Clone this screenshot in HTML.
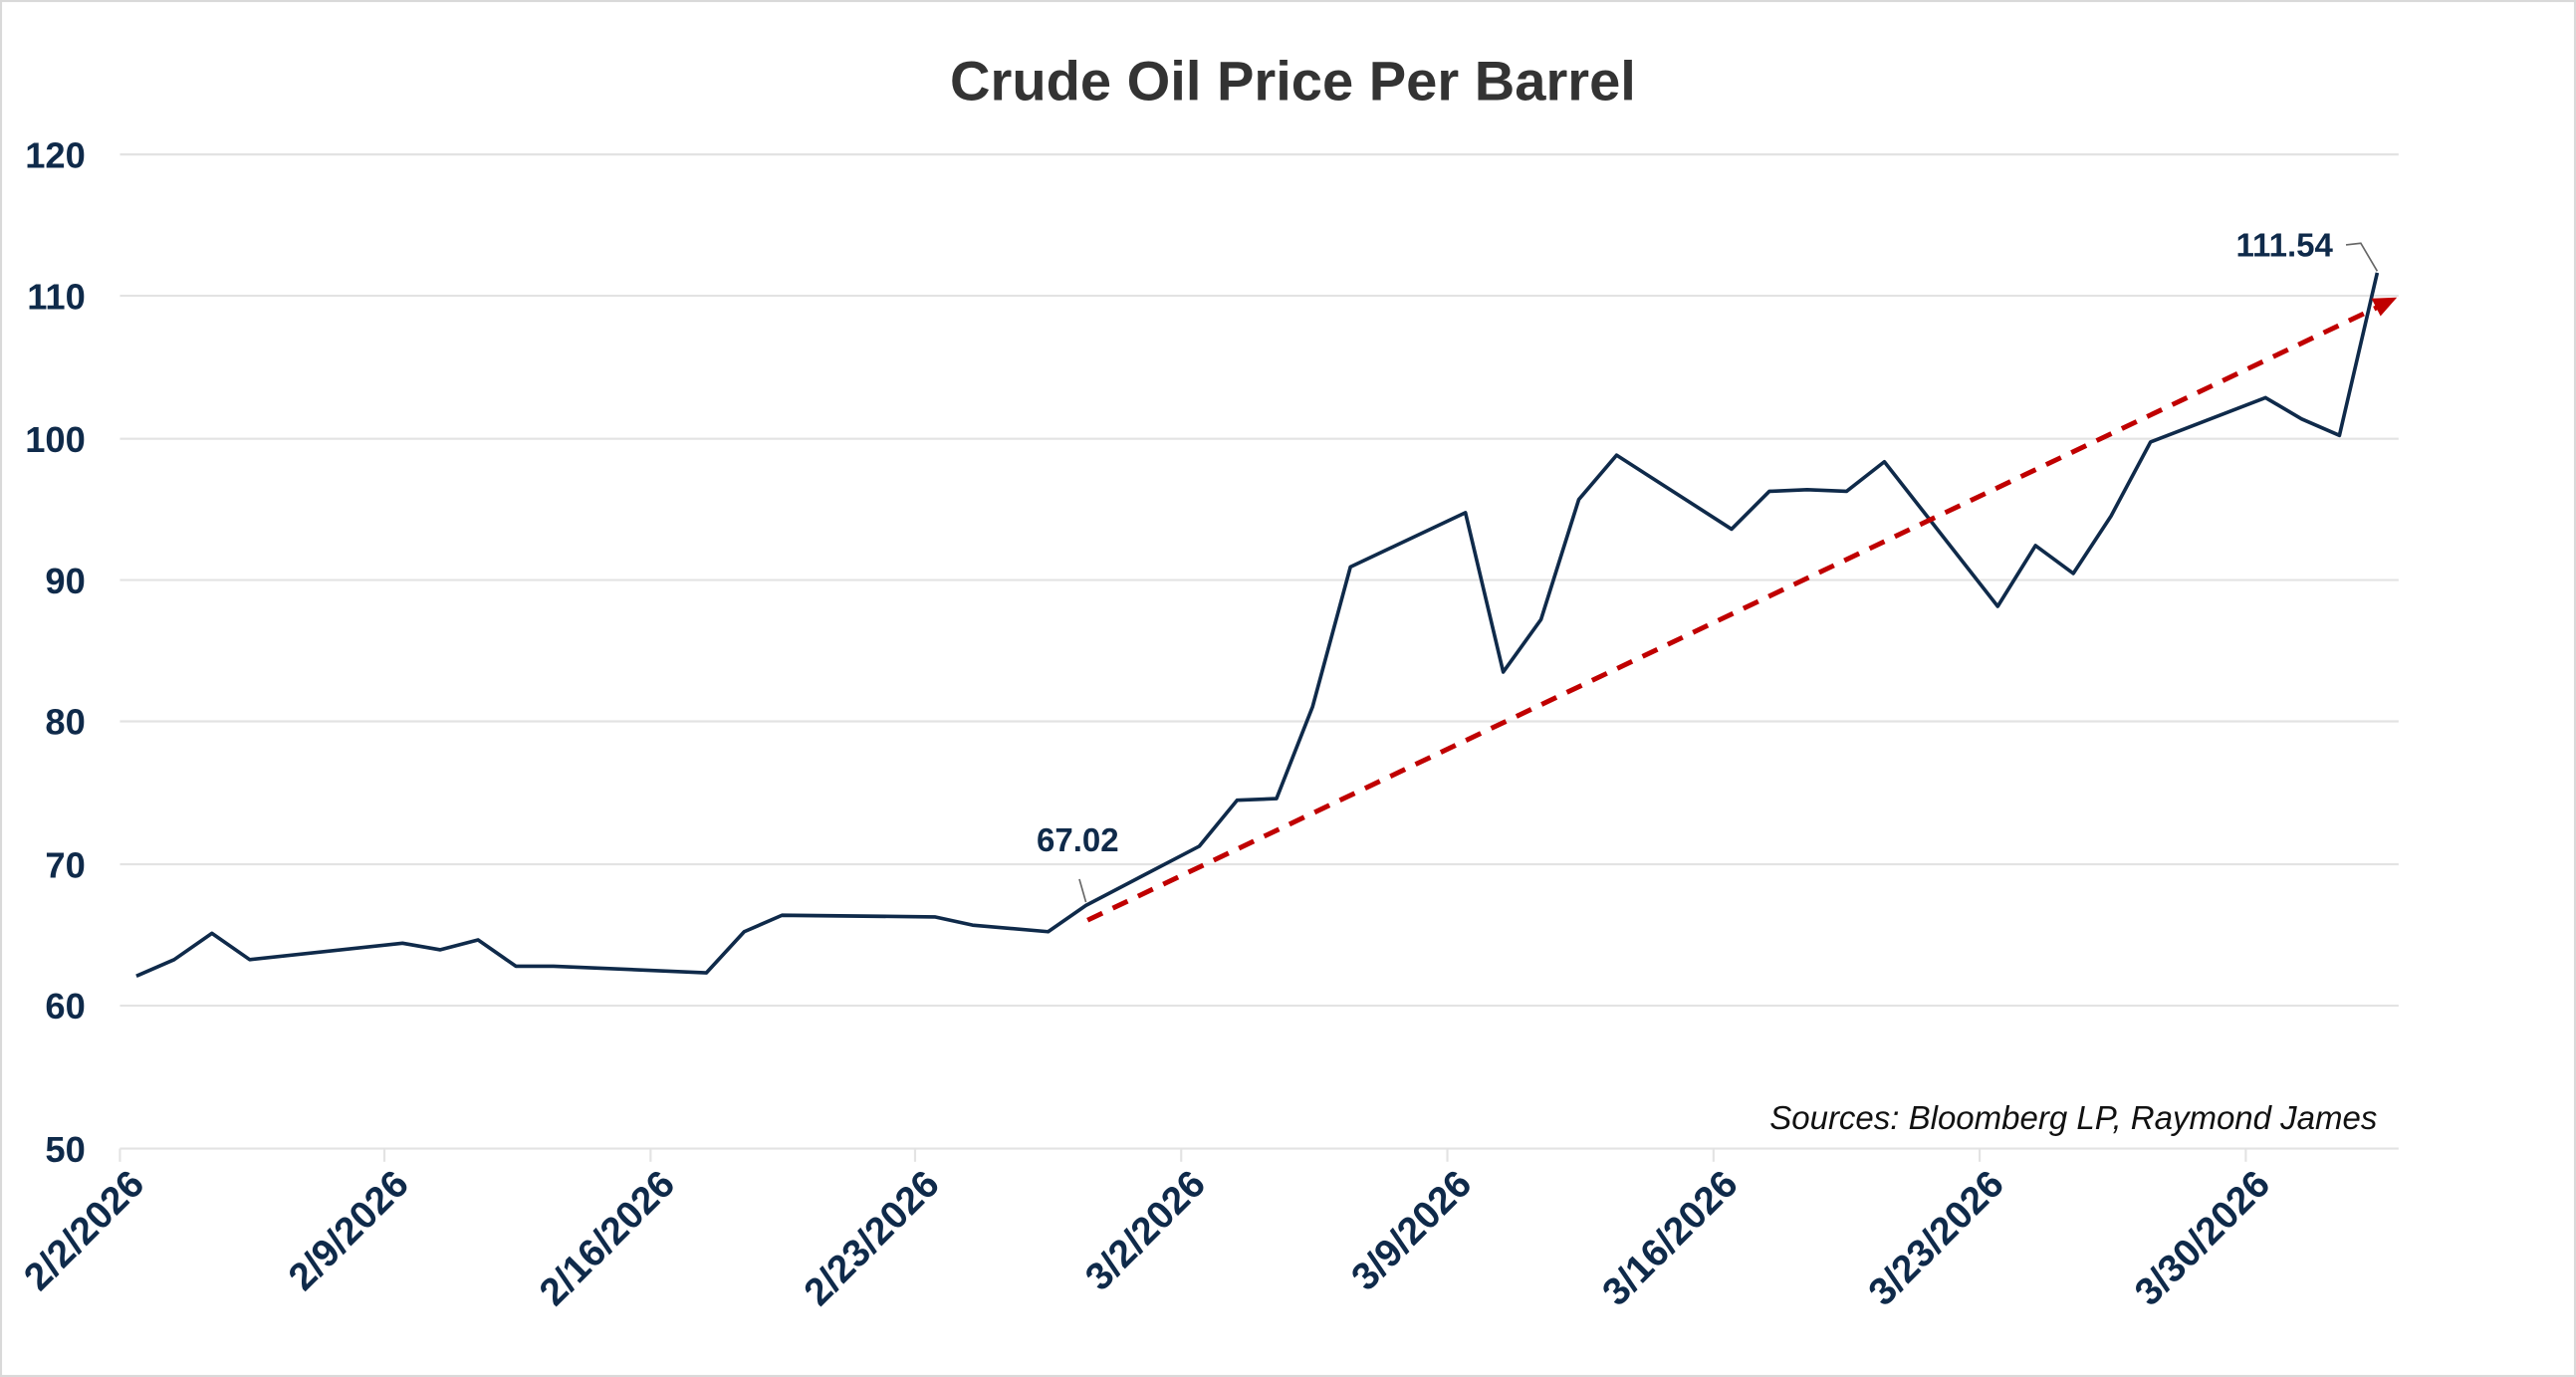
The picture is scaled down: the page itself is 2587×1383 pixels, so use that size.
<!DOCTYPE html>
<html><head><meta charset="utf-8"><style>
html,body{margin:0;padding:0;background:#fff;}
svg{display:block;}
text{font-family:"Liberation Sans",Arial,sans-serif;}
</style></head><body>
<svg width="2587" height="1383" viewBox="0 0 1568 838" preserveAspectRatio="none" xmlns="http://www.w3.org/2000/svg">
<rect x="0.5" y="0.5" width="1567" height="837" fill="#fff" stroke="#d9d9d9" stroke-width="1.5"/>
<text x="787" y="61" text-anchor="middle" font-size="34" font-weight="bold" fill="#333">Crude Oil Price Per Barrel</text>
<g stroke="#e3e3e3" stroke-width="1.3">
<line x1="73" x2="1460" y1="94" y2="94"/><line x1="73" x2="1460" y1="180" y2="180"/>
<line x1="73" x2="1460" y1="267" y2="267"/><line x1="73" x2="1460" y1="353" y2="353"/>
<line x1="73" x2="1460" y1="439" y2="439"/><line x1="73" x2="1460" y1="526" y2="526"/>
<line x1="73" x2="1460" y1="612" y2="612"/><line x1="73" x2="1460" y1="699" y2="699"/>
<line x1="73" x2="73" y1="699" y2="707"/><line x1="234" x2="234" y1="699" y2="707"/>
<line x1="396" x2="396" y1="699" y2="707"/><line x1="557" x2="557" y1="699" y2="707"/>
<line x1="719" x2="719" y1="699" y2="707"/><line x1="881" x2="881" y1="699" y2="707"/>
<line x1="1043" x2="1043" y1="699" y2="707"/><line x1="1205" x2="1205" y1="699" y2="707"/>
<line x1="1367" x2="1367" y1="699" y2="707"/>
</g>
<g font-size="22" font-weight="bold" fill="#0f2a4a" text-anchor="end">
<text x="52" y="102">120</text><text x="52" y="188">110</text><text x="52" y="275">100</text>
<text x="52" y="361">90</text><text x="52" y="447">80</text><text x="52" y="534">70</text>
<text x="52" y="620">60</text><text x="52" y="707">50</text>
</g>
<g font-size="23.5" font-weight="bold" fill="#0f2a4a" text-anchor="end">
<text transform="translate(89 722) rotate(-45)">2/2/2026</text>
<text transform="translate(250 722) rotate(-45)">2/9/2026</text>
<text transform="translate(412 722) rotate(-45)">2/16/2026</text>
<text transform="translate(573 722) rotate(-45)">2/23/2026</text>
<text transform="translate(735 722) rotate(-45)">3/2/2026</text>
<text transform="translate(897 722) rotate(-45)">3/9/2026</text>
<text transform="translate(1059 722) rotate(-45)">3/16/2026</text>
<text transform="translate(1221 722) rotate(-45)">3/23/2026</text>
<text transform="translate(1383 722) rotate(-45)">3/30/2026</text>
</g>
<polyline fill="none" stroke="#0f2a4a" stroke-width="2.2" stroke-linejoin="round" points="83,594 106,584 129,568 152,584 245,574 268,578 291,572 314,588 337,588 430,592 453,567 476,557 569,558 592,563 638,567 661,551 730,515 753,487 777,486 799,430 822,345 892,312 915,409 938,377 961,304 984,277 1054,322 1077,299 1100,298 1124,299 1147,281 1216,369 1239,332 1262,349 1285,314 1309,269 1379,242 1401,255 1424,265 1447,166"/>
<line x1="662" y1="560" x2="1447" y2="187" stroke="#c00000" stroke-width="3" stroke-dasharray="10,7"/>
<polygon points="1459,181 1443.5,181.6 1449,192.4" fill="#c00000"/>
<line x1="657" y1="535" x2="661" y2="549" stroke="#666" stroke-width="1"/>
<text x="656" y="518" text-anchor="middle" font-size="20" font-weight="bold" fill="#0f2a4a">67.02</text>
<polyline points="1428,149 1437,148 1447,165" fill="none" stroke="#666" stroke-width="1"/>
<text x="1420" y="156" text-anchor="end" font-size="20" font-weight="bold" fill="#0f2a4a">111.54</text>
<text x="1447" y="687" text-anchor="end" font-size="20" font-style="italic" fill="#111">Sources: Bloomberg LP, Raymond James</text>
</svg>
</body></html>
